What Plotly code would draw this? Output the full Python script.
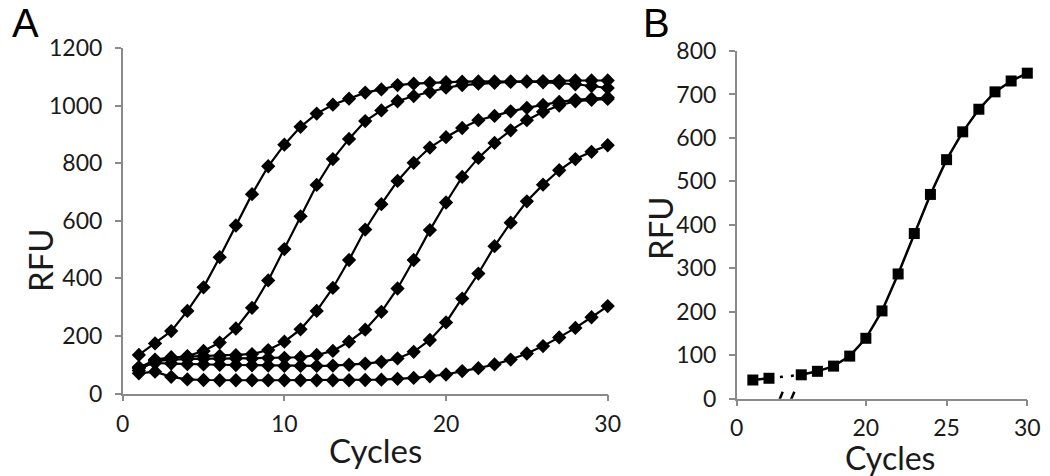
import plotly.graph_objects as go

# ---------------- Data: panel A (six amplification curves) ----------------
cycles_a = list(range(1, 31))
curve_1 = [134, 174, 217, 287, 369, 474, 584, 693, 790, 865, 927, 973, 1004, 1025, 1046,
           1057, 1072, 1077, 1080, 1082, 1084, 1085, 1085, 1085, 1084, 1082, 1079, 1075, 1069, 1062]
curve_2 = [80, 115, 122, 130, 148, 177, 226, 298, 393, 502, 616, 725, 815, 885, 947,
           984, 1016, 1034, 1048, 1063, 1072, 1077, 1080, 1083, 1085, 1086, 1087, 1088, 1088, 1088]
curve_3 = [88, 118, 126, 128, 130, 131, 133, 137, 151, 180, 223, 287, 367, 464, 570,
           658, 739, 802, 855, 891, 923, 950, 965, 981, 993, 1003, 1014, 1021, 1025, 1029]
curve_4 = [92, 112, 118, 120, 121, 121, 122, 122, 123, 124, 126, 134, 148, 180, 222,
           284, 365, 464, 568, 664, 753, 819, 871, 915, 950, 979, 1001, 1016, 1021, 1024]
curve_5 = [90, 106, 104, 102, 101, 100, 99, 98, 97, 96, 96, 96, 97, 100, 104,
           110, 122, 145, 186, 247, 330, 417, 512, 594, 668, 726, 776, 815, 840, 863]
curve_6 = [70, 76, 58, 49, 47, 46, 46, 46, 46, 46, 46, 46, 46, 46, 47,
           48, 51, 54, 60, 66, 78, 88, 101, 118, 139, 165, 195, 228, 265, 304]
curves_a = [curve_1, curve_2, curve_3, curve_4, curve_5, curve_6]
yticks_a = [0, 200, 400, 600, 800, 1000, 1200]
xticks_a = [0, 10, 20, 30]

# ---------------- Data: panel B (one curve with a broken cycle axis) ----------------
cycles_b_pre = [1, 2]
rfu_b_pre = [43, 47]
cycles_b_post = list(range(16, 31))
rfu_b_post = [55, 63, 75, 98, 139, 202, 287, 380, 470, 550, 614, 666, 706, 731, 749]
BREAK_SHIFT = 12          # cycles before the axis break are drawn shifted right
xtick_labels_b = ["0", "20", "25", "30"]
xtick_cycles_b = [0, 20, 25, 30]
yticks_b = [0, 100, 200, 300, 400, 500, 600, 700, 800]

W, H = 1050, 476
AXIS_GREY = "#8a8a8a"
TXT = "#1a1a1a"
FONT = "Lato"

fig = go.Figure()

for ys in curves_a:
    fig.add_trace(go.Scatter(
        x=cycles_a, y=ys, mode="lines+markers", xaxis="x", yaxis="y",
        line=dict(color="black", width=2.2),
        marker=dict(symbol="diamond", size=11, color="black"),
        cliponaxis=False, showlegend=False, hoverinfo="skip"))

pre_x = [c + BREAK_SHIFT for c in cycles_b_pre]
# dotted bridge across the break
fig.add_trace(go.Scatter(
    x=[pre_x[-1], cycles_b_post[0]], y=[rfu_b_pre[-1], rfu_b_post[0]],
    mode="lines", xaxis="x2", yaxis="y2",
    line=dict(color="black", width=2.5, dash="3px,8px"),
    showlegend=False, hoverinfo="skip", cliponaxis=False))
fig.add_trace(go.Scatter(
    x=pre_x, y=rfu_b_pre, mode="lines+markers", xaxis="x2", yaxis="y2",
    line=dict(color="black", width=2.5),
    marker=dict(symbol="square", size=11, color="black"),
    showlegend=False, hoverinfo="skip", cliponaxis=False))
fig.add_trace(go.Scatter(
    x=cycles_b_post, y=rfu_b_post, mode="lines+markers", xaxis="x2", yaxis="y2",
    line=dict(color="black", width=2.5),
    marker=dict(symbol="square", size=11, color="black"),
    showlegend=False, hoverinfo="skip", cliponaxis=False))

tickfont = dict(family=FONT, size=23, color=TXT)
common = dict(showgrid=False, zeroline=False, showline=True, linecolor=AXIS_GREY,
              linewidth=1.5, ticks="outside", ticklen=6, tickwidth=1.5,
              tickcolor=AXIS_GREY, tickfont=tickfont, automargin=False)

xa0, xa1 = 122.7 / W, 607.7 / W
ya0, ya1 = (H - 393.5) / H, (H - 48.3) / H
xb0, xb1 = 736.7 / W, 1027.3 / W
yb0, yb1 = (H - 398.7) / H, (H - 51.0) / H

fig.update_layout(
    width=W, height=H, margin=dict(l=0, r=0, t=0, b=0, autoexpand=False),
    paper_bgcolor="white", plot_bgcolor="white",
    xaxis=dict(domain=[xa0, xa1], range=[0, 30], tickvals=xticks_a,
               anchor="y", ticklabelstandoff=3, **common),
    yaxis=dict(domain=[ya0, ya1], range=[0, 1200], tickvals=yticks_a,
               anchor="x", ticklabelstandoff=8, **common),
    xaxis2=dict(domain=[xb0, xb1], range=[BREAK_SHIFT, 30],
                tickvals=[c + BREAK_SHIFT if c < cycles_b_post[0] else c for c in xtick_cycles_b],
                ticktext=xtick_labels_b, anchor="y2", ticklabelstandoff=2, **common),
    yaxis2=dict(domain=[yb0, yb1], range=[0, 800], tickvals=yticks_b,
                anchor="x2", ticklabelstandoff=8, **common),
)

# axis-break slashes
for (x0, y0, x1, y1) in [(14.45, -21, 14.85, 16), (15.15, -21, 15.57, 16)]:
    fig.add_shape(type="line", xref="x2", yref="y2", x0=x0, y0=y0, x1=x1, y1=y1,
                  line=dict(color="black", width=2.5))

title_font = dict(family=FONT, size=33, color=TXT)
title_font_b = dict(family=FONT, size=32, color=TXT)
letter_font = dict(family="Liberation Sans", size=40, color="black")
ann = [
    dict(text="Cycles", x=375 / W, y=(H - 450) / H, font=title_font),
    dict(text="Cycles", x=890 / W, y=(H - 457) / H, font=title_font_b),
    dict(text="RFU", x=40 / W, y=(H - 260) / H, font=title_font, textangle=-90),
    dict(text="RFU", x=660 / W, y=(H - 228) / H, font=title_font, textangle=-90),
    dict(text="A", x=25 / W, y=(H - 23) / H, font=letter_font),
    dict(text="B", x=656 / W, y=(H - 23) / H, font=letter_font),
]
for a in ann:
    fig.add_annotation(xref="paper", yref="paper", showarrow=False,
                       xanchor="center", yanchor="middle", **a)

fig.write_html("out.html", config={"displayModeBar": False},
               post_script="document.body.style.margin='0';document.body.style.overflow='hidden';")
